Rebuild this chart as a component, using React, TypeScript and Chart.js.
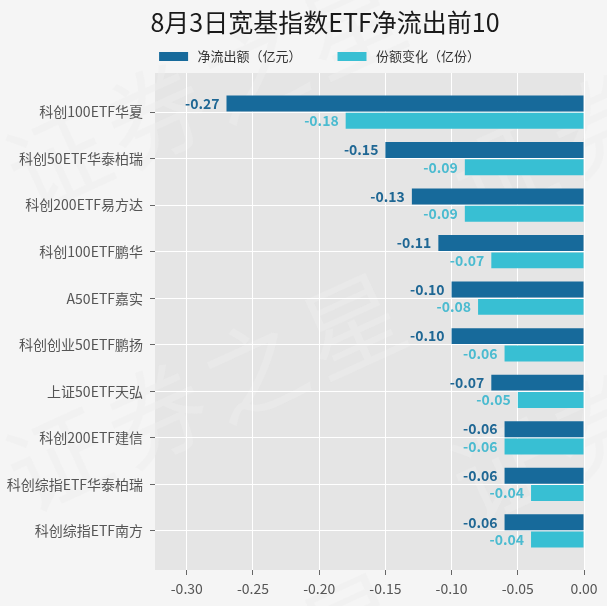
import React, { useEffect, useRef } from "react";
import { Chart, registerables } from "chart.js";

Chart.register(...registerables);

const titleText = "8月3日宽基指数ETF净流出前10";
const categories = [
  "科创100ETF华夏",
  "科创50ETF华泰柏瑞",
  "科创200ETF易方达",
  "科创100ETF鹏华",
  "A50ETF嘉实",
  "科创创业50ETF鹏扬",
  "上证50ETF天弘",
  "科创200ETF建信",
  "科创综指ETF华泰柏瑞",
  "科创综指ETF南方",
];
const netOutflow = [-0.27, -0.15, -0.13, -0.11, -0.1, -0.1, -0.07, -0.06, -0.06, -0.06];
const shareChange = [-0.18, -0.09, -0.09, -0.07, -0.08, -0.06, -0.05, -0.06, -0.04, -0.04];
const seriesNames = ["净流出额（亿元）", "份额变化（亿份）"];
const xTicks = [-0.3, -0.25, -0.2, -0.15, -0.1, -0.05, 0.0];
const watermarkText = "证券之星";

const FONT = '"Noto Sans CJK SC", "Noto Sans", sans-serif';
const barColors = ["#176a9b", "#38bfd3"];
const labelColors = ["#1f6794", "#4bbbd0"];

const backgroundPlugin = {
  id: "bgAndWatermark",
  afterLayout(chart: any) {
    // center the legend over the same span as the reference
    if (chart.legend) chart.legend.left = 55;
  },
  beforeDraw(chart: any) {
    const { ctx, chartArea: a, width, height } = chart;
    ctx.save();
    ctx.fillStyle = "#f5f5f5";
    ctx.fillRect(0, 0, width, height);
    ctx.fillStyle = "#e5e5e5";
    ctx.fillRect(a.left, a.top, a.right - a.left, a.bottom - a.top);
    // faint watermark
    ctx.font = `100px ${FONT}`;
    ctx.fillStyle = "rgba(237,237,237,0.45)";
    ctx.textAlign = "center";
    ctx.textBaseline = "middle";
    const centers = [
      [205, 92],
      [205, 392],
      [205, 692],
      [650, 102],
      [650, 402],
      [650, 702],
    ];
    const chars = Array.from(watermarkText);
    centers.forEach(([cx, cy]) => {
      ctx.save();
      ctx.translate(cx, cy);
      ctx.rotate((-24.6 * Math.PI) / 180);
      chars.forEach((ch, k) => {
        ctx.fillText(ch, (k - (chars.length - 1) / 2) * 108, 0);
      });
      ctx.restore();
    });
    ctx.restore();
  },
};

const valueLabelPlugin = {
  id: "valueLabels",
  afterDatasetsDraw(chart: any) {
    const ctx = chart.ctx;
    ctx.save();
    ctx.font = `bold 14px ${FONT}`;
    ctx.textAlign = "right";
    ctx.textBaseline = "middle";
    chart.data.datasets.forEach((ds: any, di: number) => {
      const meta = chart.getDatasetMeta(di);
      ctx.fillStyle = labelColors[di];
      meta.data.forEach((bar: any, i: number) => {
        const v = ds.data[i].x as number;
        ctx.fillText(v.toFixed(2), Math.min(bar.x, bar.base) - 7, bar.y);
      });
    });
    ctx.restore();
  },
};

const titlePlugin = {
  id: "customTitle",
  afterDraw(chart: any) {
    const ctx = chart.ctx;
    ctx.save();
    ctx.font = `25px ${FONT}`;
    ctx.fillStyle = "#1a1a1a";
    ctx.textAlign = "center";
    ctx.textBaseline = "middle";
    ctx.fillText(titleText, 325, 22);
    ctx.restore();
  },
};

export default function App() {
  const canvasRef = useRef<HTMLCanvasElement | null>(null);

  useEffect(() => {
    document.body.style.margin = "0";
    const canvas = canvasRef.current;
    if (!canvas) return;
    const defaultGen = (Chart.defaults as any).plugins.legend.labels.generateLabels;
    const chart = new Chart(canvas, {
      type: "bar",
      data: {
        datasets: [
          {
            label: seriesNames[0],
            data: netOutflow.map((v, i) => ({ x: v, y: i })),
            backgroundColor: barColors[0],
            borderWidth: 0,
          },
          {
            label: seriesNames[1],
            data: shareChange.map((v, i) => ({ x: v, y: i })),
            backgroundColor: barColors[1],
            borderWidth: 0,
          },
        ],
      },
      options: {
        indexAxis: "y",
        animation: false,
        responsive: true,
        maintainAspectRatio: false,
        categoryPercentage: 0.744,
        barPercentage: 0.92,
        layout: { padding: { top: 14, left: 0, right: 23, bottom: 0 } },
        scales: {
          x: {
            type: "linear",
            position: "bottom",
            min: -0.324,
            max: 0,
            afterBuildTicks: (scale: any) => {
              scale.ticks = xTicks.map((v) => ({ value: v }));
            },
            afterFit: (scale: any) => {
              scale.height = 36;
            },
            ticks: {
              callback: (v: any) => Number(v).toFixed(2),
              color: "#555555",
              font: { family: FONT, size: 14 },
              padding: 5,
              maxRotation: 0,
            },
            grid: {
              color: "#ffffff",
              lineWidth: 1,
              tickColor: "#666666",
              tickLength: 5,
            },
            border: { display: false },
          },
          y: {
            type: "linear",
            reverse: true,
            offset: false,
            min: -0.84,
            max: 9.84,
            afterBuildTicks: (scale: any) => {
              scale.ticks = categories.map((_, i) => ({ value: i }));
            },
            afterFit: (scale: any) => {
              scale.width = 155;
            },
            ticks: {
              callback: (v: any) => categories[Math.round(Number(v))] ?? "",
              color: "#555555",
              font: { family: FONT, size: 14 },
              padding: 7,
            },
            grid: {
              offset: false,
              color: "#ffffff",
              lineWidth: 1,
              tickColor: "#666666",
              tickLength: 5,
            },
            border: { display: false },
          },
        },
        plugins: {
          title: { display: false },
          tooltip: { enabled: false },
          legend: {
            display: true,
            position: "top",
            labels: {
              boxWidth: 29,
              boxHeight: 9,
              padding: 36,
              color: "#333333",
              font: { family: FONT, size: 13 },
              generateLabels: (c: any) =>
                defaultGen(c).map((l: any) => ({ ...l, text: " " + l.text })),
            },
          },
        },
      },
      plugins: [backgroundPlugin, valueLabelPlugin, titlePlugin],
    } as any);
    return () => chart.destroy();
  }, []);

  return (
    <div style={{ width: 607, height: 606, position: "relative" }}>
      <canvas ref={canvasRef} />
    </div>
  );
}
